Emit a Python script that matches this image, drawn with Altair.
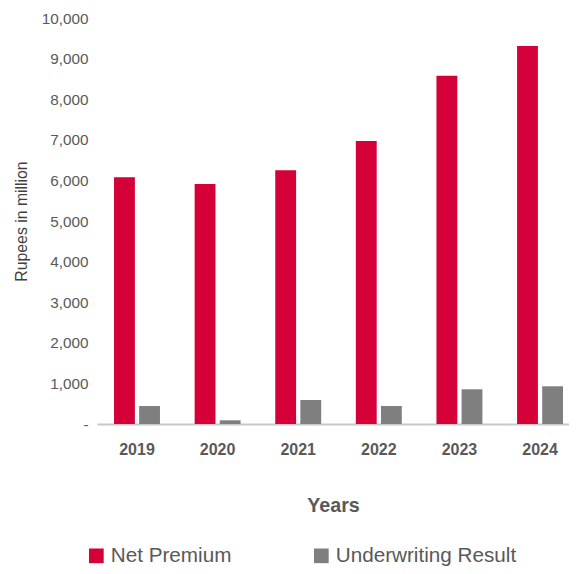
import altair as alt
import pandas as pd

years = ["2019", "2020", "2021", "2022", "2023", "2024"]
net_premium = [6080, 5910, 6250, 6970, 8580, 9310]
underwriting = [443, 91, 591, 443, 855, 929]
series = ["Net Premium", "Underwriting Result"]
colors = ["#d50037", "#7f7f7f"]

rows = []
for i, y in enumerate(years):
    rows.append({"Year": y, "Series": series[0], "Value": net_premium[i]})
    rows.append({"Year": y, "Series": series[1], "Value": underwriting[i]})
df = pd.DataFrame(rows)

font = "Liberation Sans"

chart = alt.Chart(df).mark_bar().encode(
    x=alt.X("Year:N", sort=years,
            scale=alt.Scale(paddingInner=0.43, paddingOuter=0.1427, align=0.74, round=False),
            axis=alt.Axis(title="Years", labelAngle=0, labelFont=font, labelFontSize=16,
                          labelFontWeight="bold", labelColor="#595959", labelPadding=17,
                          ticks=False, domainColor="#c8c8c8", domainWidth=2,
                          titleFont=font, titleFontSize=19.7, titleFontWeight="bold",
                          titleColor="#595959", titlePadding=38)),
    xOffset=alt.XOffset("Series:N", sort=series,
                        scale=alt.Scale(paddingInner=0.17, round=False)),
    y=alt.Y("Value:Q",
            scale=alt.Scale(domain=[0, 10000], nice=False),
            axis=alt.Axis(title="Rupees in million", values=list(range(0, 10001, 1000)),
                          labelExpr="datum.value == 0 ? '-' : format(datum.value, ',')",
                          labelFont=font, labelFontSize=15.3, labelColor="#595959",
                          grid=False, domain=False, ticks=False, labelPadding=9,
                          titleFont=font, titleFontSize=15.8, titleFontWeight="normal",
                          titleColor="#404040", titlePadding=12)),
    color=alt.Color("Series:N", sort=series,
                    scale=alt.Scale(domain=series, range=colors),
                    legend=alt.Legend(title=None, orient="none", direction="horizontal",
                                      legendX=-11, legendY=527,
                                      symbolType="square", symbolSize=215,
                                      symbolStrokeWidth=0, symbolOpacity=1,
                                      labelFont=font, labelFontSize=20.7, labelColor="#595959",
                                      labelLimit=400,
                                      columnPadding=79, labelOffset=4)),
).properties(
    width=472, height=406,
    autosize=alt.AutoSizeParams(type="none"),
    padding={"left": 89, "top": 10, "right": 0, "bottom": 142},
).configure_view(stroke=None)

chart.save("out.html", embed_options={"renderer": "svg", "actions": False})
